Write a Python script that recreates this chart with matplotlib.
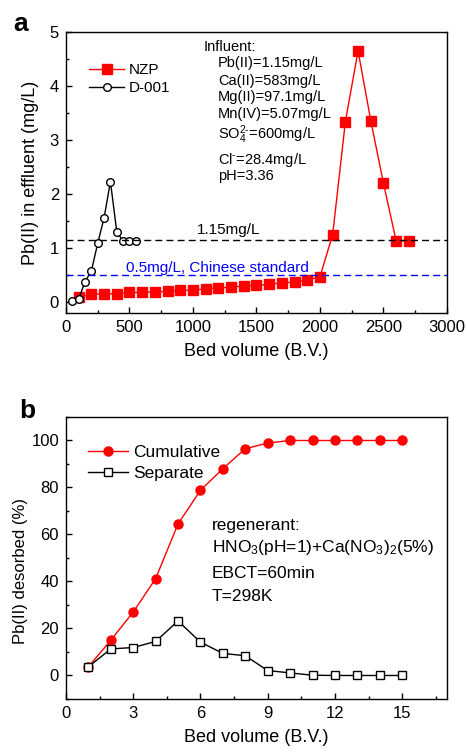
import numpy as np
import matplotlib
matplotlib.use("Agg")
import matplotlib.pyplot as plt
from matplotlib.ticker import MultipleLocator

plt.rcParams['font.family'] = ['Liberation Sans', 'DejaVu Sans']
plt.rcParams['mathtext.fontset'] = 'custom'
plt.rcParams['mathtext.rm'] = 'Liberation Sans'
plt.rcParams['mathtext.it'] = 'Liberation Sans'
plt.rcParams['mathtext.default'] = 'rm'

# Panel a: breakthrough data
nzp_bv = [100, 200, 300, 400, 500, 600, 700, 800, 900, 1000, 1100, 1200, 1300, 1400,
          1500, 1600, 1700, 1800, 1900, 2000, 2100, 2200, 2300, 2400, 2500, 2600, 2700]
nzp_pb = [0.09, 0.15, 0.15, 0.16, 0.18, 0.18, 0.19, 0.20, 0.22, 0.22, 0.25, 0.26, 0.28, 0.30,
          0.31, 0.33, 0.36, 0.37, 0.41, 0.47, 1.25, 3.34, 4.65, 3.36, 2.20, 1.13, 1.14]
d001_bv = [50, 100, 150, 200, 250, 300, 350, 400, 450, 500, 550]
d001_pb = [0.02, 0.06, 0.38, 0.58, 1.09, 1.56, 2.23, 1.30, 1.13, 1.13, 1.14]
influent_level = 1.15
standard_level = 0.5
influent_lines = ["Pb(II)=1.15mg/L", "Ca(II)=583mg/L", "Mg(II)=97.1mg/L",
                  "Mn(IV)=5.07mg/L", r"SO$_4^{2\text{-}}$=600mg/L", r"Cl$^{\text{-}}$=28.4mg/L",
                  "pH=3.36"]

# Panel b: desorption data
des_bv = list(range(1, 16))
cumulative = [3.7, 15.0, 27.0, 41.2, 64.5, 78.8, 88.0, 96.5, 98.9, 100, 100, 100, 100, 100, 100]
separate = [3.7, 11.3, 11.9, 14.5, 23.2, 14.2, 9.4, 8.4, 2.1, 1.1, 0.1, 0, 0, 0, 0]
regen_lines = ["regenerant:", r"HNO$_3$(pH=1)+Ca(NO$_3$)$_2$(5%)", "EBCT=60min", "T=298K"]

fig = plt.figure(figsize=(4.67, 7.52), dpi=100)
ax1 = fig.add_axes([0.1413, 0.5838, 0.8158, 0.3737])
ax2 = fig.add_axes([0.1413, 0.0705, 0.8158, 0.3750])


def style_axis(ax):
    for s in ax.spines.values():
        s.set_linewidth(1.0)
    ax.tick_params(which='both', direction='in', top=False, right=False, labelsize=12, pad=5)
    ax.tick_params(which='major', length=4, width=1)
    ax.tick_params(which='minor', length=2.5, width=1)


# ---- panel a ----
ax1.plot(nzp_bv, nzp_pb, '-s', color='red', lw=1.0, ms=6.5, mec='red', mfc='red', label='NZP')
ax1.plot(d001_bv, d001_pb, '-o', color='black', lw=1.0, ms=5.5, mfc='white', mec='black',
         mew=1.0, label='D-001')
ax1.axhline(influent_level, color='black', ls=(0, (5, 3)), lw=1.0)
ax1.axhline(standard_level, color='blue', ls=(0, (5, 3)), lw=1.0)
ax1.text(1030, 1.33, "1.15mg/L", fontsize=11, va='center', ha='left')
ax1.text(472, 0.64, "0.5mg/L, Chinese standard", fontsize=11, va='center', ha='left', color='blue')

ax1.text(1080, 4.72, "Influent:", fontsize=10.5, va='center', ha='left')
ys = [4.42, 4.10, 3.79, 3.48, 3.09, 2.64, 2.33]
for txt, yy in zip(influent_lines, ys):
    ax1.text(1197, yy, txt, fontsize=10.5, va='center', ha='left')

ax1.set_xlim(0, 3000)
ax1.set_ylim(-0.2, 5)
ax1.xaxis.set_major_locator(MultipleLocator(500))
ax1.xaxis.set_minor_locator(MultipleLocator(250))
ax1.yaxis.set_major_locator(MultipleLocator(1))
ax1.yaxis.set_minor_locator(MultipleLocator(0.5))
style_axis(ax1)
ax1.set_xlabel("Bed volume (B.V.)", fontsize=13, labelpad=6)
ax1.set_ylabel("Pb(II) in effluent (mg/L)", fontsize=13, labelpad=8)
ax1.legend(loc='upper left', bbox_to_anchor=(0.045, 0.91), frameon=False, fontsize=11,
           handlelength=2.3, handletextpad=0.3, labelspacing=0.25, borderaxespad=0)
fig.text(0.045, 1 - 24 / 752, "a", fontsize=19, fontweight='bold', ha='center', va='center')

# ---- panel b ----
ax2.plot(des_bv, cumulative, '-o', color='red', lw=1.0, ms=6.5, mfc='red', mec='red',
         label='Cumulative')
ax2.plot(des_bv, separate, '-s', color='black', lw=1.0, ms=5.5, mfc='white', mec='black',
         mew=1.0, label='Separate')
ys_b = [63.9, 54.5, 43.3, 33.7]
for txt, yy in zip(regen_lines, ys_b):
    ax2.text(6.5, yy, txt, fontsize=12.5, va='center', ha='left')

ax2.set_xlim(0, 17)
ax2.set_ylim(-10, 110)
ax2.xaxis.set_major_locator(MultipleLocator(3))
ax2.xaxis.set_minor_locator(MultipleLocator(1.5))
ax2.yaxis.set_major_locator(MultipleLocator(20))
ax2.yaxis.set_minor_locator(MultipleLocator(10))
style_axis(ax2)
ax2.set_xlabel("Bed volume (B.V.)", fontsize=13, labelpad=6)
ax2.set_ylabel("Pb(II) desorbed (%)", fontsize=12)
ax2.yaxis.set_label_coords(-0.1, 0.455)
ax2.legend(loc='upper left', bbox_to_anchor=(0.04, 0.925), frameon=False, fontsize=12.5,
           handlelength=2.3, handletextpad=0.3, labelspacing=0.3, borderaxespad=0)
fig.text(0.058, 1 - 411 / 752, "b", fontsize=19, fontweight='bold', ha='center', va='center')

fig.savefig("out.png", dpi=100)
